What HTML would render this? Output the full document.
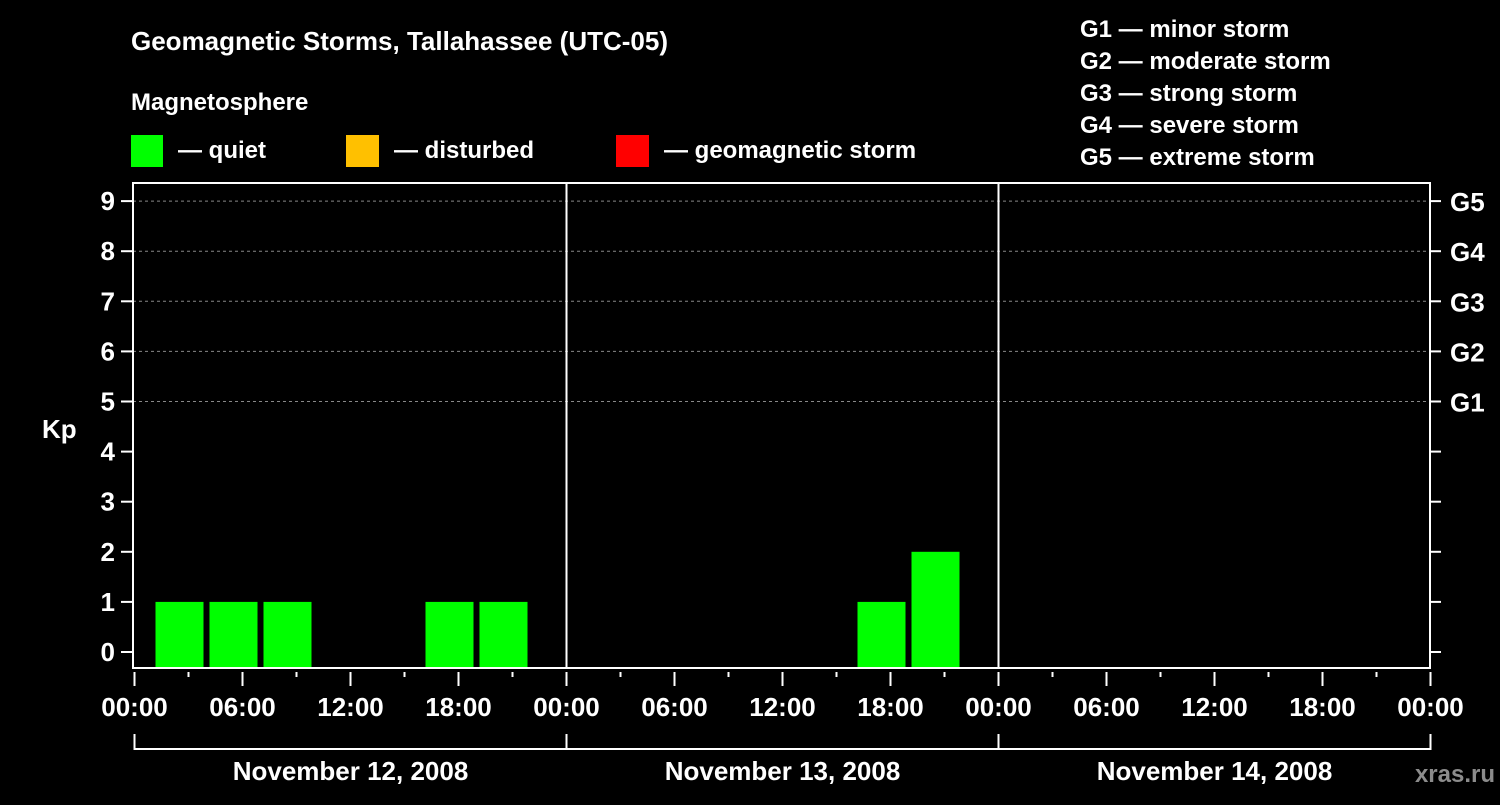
<!DOCTYPE html>
<html><head><meta charset="utf-8"><style>
body{margin:0;background:#000;}
svg text{font-family:"Liberation Sans",Arial,sans-serif;font-weight:bold;fill:#fff;}
</style></head><body>
<svg id="chart" width="1500" height="800" xmlns="http://www.w3.org/2000/svg">
<rect width="1500" height="800" fill="#000"/>
<text x="131" y="50" font-size="26">Geomagnetic Storms, Tallahassee (UTC-05)</text>
<text x="131" y="110" font-size="24">Magnetosphere</text>
<g><rect x="131" y="135" width="32" height="32" fill="#00ff00"/><text x="178" y="158" font-size="24">— quiet</text></g>
<g><rect x="346" y="135" width="33" height="32" fill="#ffc000"/><text x="394" y="158" font-size="24">— disturbed</text></g>
<g><rect x="616" y="135" width="33" height="32" fill="#ff0000"/><text x="664" y="158" font-size="24">— geomagnetic storm</text></g>
<g font-size="24">
<text x="1080" y="37">G1 — minor storm</text>
<text x="1080" y="69">G2 — moderate storm</text>
<text x="1080" y="101">G3 — strong storm</text>
<text x="1080" y="133">G4 — severe storm</text>
<text x="1080" y="165">G5 — extreme storm</text>
</g>
<text x="42" y="438" font-size="26">Kp</text>
<text x="1495" y="782" font-size="24" fill="#888" style="fill:#8c8c8c" text-anchor="end">xras.ru</text>
<g id="g"></g>
</svg>
<script>
const days=["November 12, 2008","November 13, 2008","November 14, 2008"];
const kpValues=[1,1,1,null,null,1,1,null, null,null,null,null,null,1,2,null, null,null,null,null,null,null,null,null];
const yTicks=[0,1,2,3,4,5,6,7,8,9];
const gLabels=["G1","G2","G3","G4","G5"];
const gLevels=[5,6,7,8,9];
const timeLabels=["00:00","06:00","12:00","18:00"];

const L=133,R=1430,T=183,B=668,X0=134.5,HW=18;
const xS=h=>X0+h*HW;
const yS=v=>652-v*50.1;
const ns="http://www.w3.org/2000/svg";
const g=document.getElementById('g');
function mk(t,a,p){const e=document.createElementNS(ns,t);for(const k in a)e.setAttribute(k,a[k]);(p||g).appendChild(e);return e;}
// grid
gLevels.forEach((v,i)=>{
 const l=mk('line',{x1:L,x2:R,y1:yS(v),y2:yS(v),stroke:'#888','stroke-dasharray':'3,3','stroke-width':1});
 
 
 const t=mk('text',{x:1450,y:yS(v)+10,'font-size':26});t.textContent=gLabels[i];
 
 
});
// bars
kpValues.forEach((v,k)=>{
 if(v===null)return;
 const col=v<4?'#00ff00':(v<5?'#ffc000':'#ff0000');
 const r=mk('rect',{x:xS(1+3*k)+3,y:yS(v),width:48,height:B-yS(v),fill:col});
 
 
});
// frame
const fr=mk('rect',{x:L,y:T,width:R-L,height:B-T,fill:'none',stroke:'#fff','stroke-width':2});


for(let d=1;d<days.length;d++){
 const l=mk('line',{x1:xS(24*d),x2:xS(24*d),y1:T,y2:B,stroke:'#fff','stroke-width':2});
 
 
}
// y ticks
yTicks.forEach(v=>{
 mk('line',{x1:121,x2:L,y1:yS(v),y2:yS(v),stroke:'#fff','stroke-width':2});
 mk('line',{x1:R,x2:1441,y1:yS(v),y2:yS(v),stroke:'#fff','stroke-width':2});
 const t=mk('text',{x:115,y:yS(v)+9,'font-size':26,'text-anchor':'end'});t.textContent=v;
 
 
});
// x ticks
for(let h=0;h<=72;h+=3){
 const x=xS(h),maj=h%6===0;
 mk('line',{x1:x,x2:x,y1:672,y2:maj?686:677,stroke:'#fff','stroke-width':2});
 if(maj){const t=mk('text',{x:x,y:716,'font-size':26,'text-anchor':'middle'});t.textContent=timeLabels[(h%24)/6];
  
  }
}
// day brackets
mk('line',{x1:xS(0),x2:xS(72),y1:749,y2:749,stroke:'#fff','stroke-width':2});
for(let d=0;d<=days.length;d++)mk('line',{x1:xS(24*d),x2:xS(24*d),y1:734,y2:750,stroke:'#fff','stroke-width':2});
days.forEach((s,d)=>{
 const t=mk('text',{x:xS(24*d+12),y:780,'font-size':26,'text-anchor':'middle'});t.textContent=s;
 
 
});
</script>
</body></html>
